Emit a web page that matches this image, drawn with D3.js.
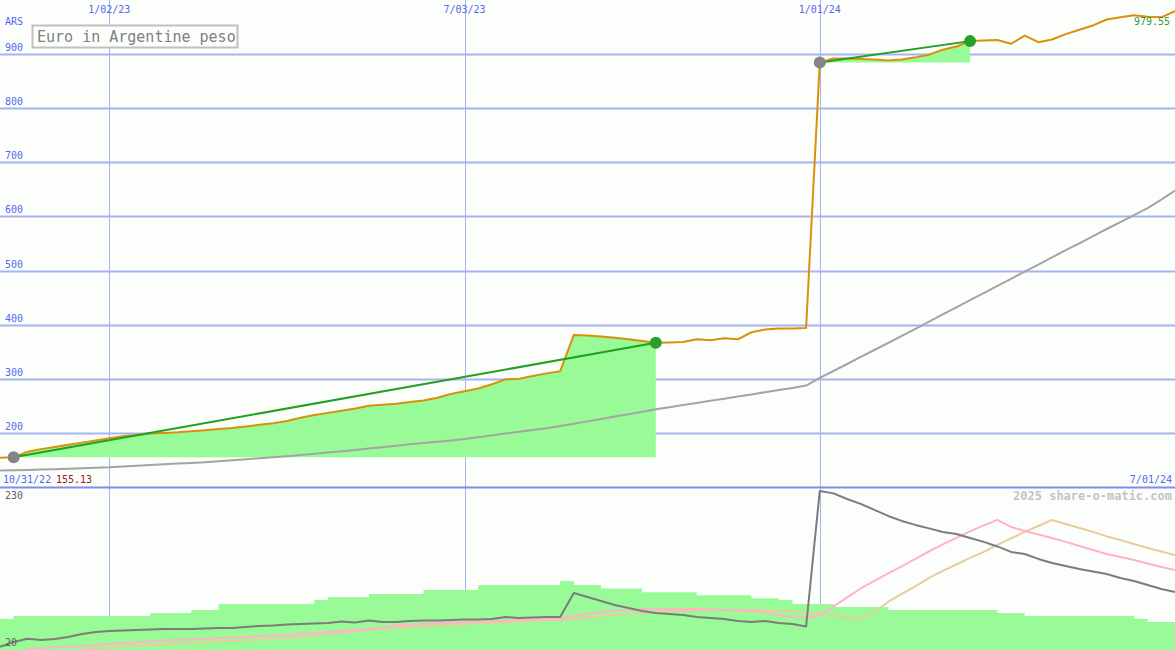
<!DOCTYPE html>
<html>
<head>
<meta charset="utf-8">
<script src="https://cdn.jsdelivr.net/npm/d3@7"></script>
<style>
  html, body { margin: 0; padding: 0; background: #fcfefc; }
  svg { display: block; }
  text { font-family: "DejaVu Sans Mono", "Liberation Mono", monospace; }
</style>
</head>
<body>
<div id="chart"></div>
<script>
// --- Data (weekly, Mondays) ---
const startWeek = "2022-11-07";
const endWeek = "2024-07-01";
const tickDates = ["2023-01-02", "2023-07-03", "2024-01-01"];
const tickLabels = ["1/02/23", "7/03/23", "1/01/24"];
const priceTicks = [200, 300, 400, 500, 600, 700, 800, 900];

// Euro in ARS
const priceValues = [
  154, 155.13, 165, 170, 174, 178, 182, 186, 190, 194,
  196, 199, 200, 201, 203, 205, 207, 209, 212, 215,
  218, 222, 228, 233, 237, 241, 245, 250, 252, 254,
  257, 260, 265, 272, 277, 282, 290, 299, 300, 305,
  310, 314, 381, 380, 378, 376, 373, 370, 366.5, 367,
  368, 373, 371, 375, 373, 386, 391, 393, 393, 394,
  884.5, 892, 892, 891, 890, 888, 890, 894, 899, 908,
  914, 924, 925, 926, 919, 934, 922, 927, 937, 945,
  953, 964, 968, 972, 969, 968, 979.55
];

// long moving average (grey)
const avgValues = [
  130.5, 131, 131.4, 132.2, 132.9, 133.8, 134.8, 135.5, 136.4, 137.9,
  139.4, 140.7, 142, 143.3, 144.4, 145.9, 147.7, 149.4, 151.2, 153.1,
  154.9, 156.9, 159.2, 161.4, 163.6, 166, 168.4, 171, 173.6, 176.2,
  178.8, 181.3, 183.7, 186.1, 188.7, 192, 195.4, 198.7, 202, 205.4,
  208.7, 212.8, 217, 221.3, 225.7, 230.1, 234.5, 239, 243.6, 247.5,
  251.6, 255.4, 259.3, 263.2, 267.1, 271.1, 275.2, 279.3, 283, 287.4,
  301.5, 314.4, 327.3, 340.3, 353.2, 366.1, 379.1, 392.4, 405.7, 419,
  431.9, 445.2, 458.5, 471.5, 484.8, 498.1, 511, 524.3, 537.6, 550.4,
  563.5, 576.8, 589.5, 602.5, 615.5, 631, 648
];

// gain periods [start, end]
const periodStarts = ["2022-11-14", "2024-01-01"];
const periodEnds = ["2023-10-09", "2024-03-18"];

// lower panel
const lowerTicks = [20, 230];
const barValues = [
  58.6, 62.5, 62.5, 62.5, 62.5, 62.5, 62.5, 62.5, 62.5, 62.5,
  62.5, 66.5, 66.5, 66.5, 70.5, 70.5, 78.5, 78.5, 78.5, 78.5,
  78.5, 78.5, 78.5, 83.8, 87.8, 87.8, 87.8, 91.8, 91.8, 91.8,
  91.8, 97, 97, 97, 97, 103.8, 103.8, 103.8, 103.8, 103.8,
  103.8, 109, 103.8, 103.8, 99, 99, 99, 94, 94, 94,
  94, 90, 90, 90, 90, 86, 86, 83.8, 78.5, 78.5,
  78.5, 74.5, 74.5, 74.5, 74.5, 70.5, 70.5, 70.5, 70.5, 70.5,
  70.5, 70.5, 70.5, 66.5, 66.5, 62.5, 62.5, 62.5, 62.5, 62.5,
  62.5, 62.5, 62.5, 58.6, 54.6, 54.6, 54.6
];
const darkValues = [
  21.7, 28, 32.4, 30.6, 32, 34.6, 38.6, 41.3, 42.6, 43.3,
  44, 44.6, 45.3, 45.3, 45.3, 46, 46.6, 46.6, 48, 49.3,
  50, 51.3, 52, 52.6, 53.2, 55.2, 54, 56.6, 54.6, 54.6,
  56, 56.6, 56.6, 57.2, 57.9, 57.9, 58.6, 61.2, 60, 60.6,
  61.2, 61.2, 93, 87.8, 82.5, 77.2, 73.2, 69.2, 66.5, 65.2,
  63.9, 61.2, 60, 58.6, 55.9, 54.6, 55.9, 53.2, 51.9, 48.6,
  228.8, 225.5, 218, 211.5, 203.5, 195.5, 188.9, 183.6, 179, 174.3,
  171.6, 166.3, 161, 155, 147.7, 145, 138.4, 133, 129, 125,
  121.7, 118.4, 113, 109, 103.8, 98.5, 94.5
];
const pinkValues = [
  null, null, 18.7, 20, 21.3, 22, 22.7, 24, 25.3, 26.6,
  27.3, 28.6, 30, 30.6, 31.3, 32, 33.3, 34, 34.6, 36,
  36.6, 37.3, 38.6, 40, 41.3, 42.6, 44, 45.3, 46.6, 50.2,
  51, 52, 52.9, 54, 54.6, 55.2, 55.9, 56.6, 57.2, 57.9,
  58.6, 59.2, 62.5, 65.2, 67.9, 69.9, 71.2, 71.9, 71.9, 71.9,
  71.9, 71.9, 71.2, 70.5, 69.9, 69.2, 67.9, 63.2, 61.2, 60,
  63.9, 74.9, 87.2, 99.1, 109.1, 119.1, 128.4, 138.4, 148.3, 157.6,
  166.3, 174.9, 182.9, 190.2, 180.9, 175.6, 170.9, 166.3, 161, 155.6,
  150.3, 145, 141, 137, 132.4, 127.7, 123.7
];
const tanValues = [
  null, null, null, null, null, null, 18.3, 19.3, 20.7, 22,
  23.3, 24, 24.7, 25.3, 26.6, 27.3, 28.6, 29.3, 30.6, 31.3,
  32.6, 34, 35, 36.6, 38.6, 40, 41.9, 43.9, 45.9, 47.3,
  48.6, 49.3, 50.6, 51.3, 51.9, 53.2, 53.9, 54.6, 55.2, 55.9,
  56.6, 57.2, 58.6, 60.6, 62.6, 63.9, 65.2, 66.5, 67.9, 68.5,
  69.2, 69.9, 70.5, 70.5, 70.5, 70.5, 69.9, 69.5, 68.5, 67.2,
  65.2, 63.2, 60.6, 59, 67.9, 81.2, 91.8, 101.8, 113.1, 122.4,
  131, 139.7, 147.7, 157, 165.6, 174.3, 182.2, 190.2, 184.9, 179.6,
  174.3, 168.3, 163.6, 158.3, 153, 148.3, 143.7
];

// --- Layout ---
const width = 1175, height = 650;
const splitY = 487;
const parse = d3.utcParse("%Y-%m-%d");
const dates = priceValues.map((_, i) => d3.utcDay.offset(parse(startWeek), 7 * i));

const x = d3.scaleUtc().domain([parse(startWeek), parse(endWeek)]).range([0, width]);
const y = d3.scaleLinear().domain([100, 1000]).range([splitY, 0]);
const y2 = d3.scaleLinear().domain([20, 230]).range([648, 490]);

const blue = "#5468ee";
const gridColor = "#a6b3f2";

const svg = d3.select("#chart").append("svg")
    .attr("width", width)
    .attr("height", height);

svg.append("rect").attr("width", width).attr("height", height).attr("fill", "#fcfefc");

// --- Grid ---
svg.append("g")
    .selectAll("line")
    .data(priceTicks)
    .join("line")
    .attr("x1", 0).attr("x2", width)
    .attr("y1", d => Math.round(y(d)) + 0.5)
    .attr("y2", d => Math.round(y(d)) + 0.5)
    .attr("stroke", gridColor)
    .attr("stroke-width", 2);

svg.append("g")
    .selectAll("line")
    .data(tickDates)
    .join("line")
    .attr("x1", d => Math.round(x(parse(d))) + 0.5)
    .attr("x2", d => Math.round(x(parse(d))) + 0.5)
    .attr("y1", 0).attr("y2", height)
    .attr("stroke", gridColor)
    .attr("stroke-width", 1);

// --- Gain areas (top) ---
const idx = s => dates.findIndex(d => +d === +parse(s));
periodStarts.forEach((s, p) => {
  const i0 = idx(s), i1 = idx(periodEnds[p]);
  const base = priceValues[i0];
  const seg = d3.range(i0, i1 + 1);
  svg.append("path")
      .datum(seg)
      .attr("fill", "#98fb98")
      .attr("d", d3.area()
          .x(i => x(dates[i]))
          .y0(y(base))
          .y1(i => y(priceValues[i])));
});

// --- Lower panel bars ---
svg.append("path")
    .datum(barValues.map((v, i) => [dates[i], v]))
    .attr("fill", "#98fb98")
    .attr("d", d3.area()
        .curve(d3.curveStepAfter)
        .x(d => x(d[0]))
        .y0(height)
        .y1(d => y2(d[1])));

// --- Panel divider ---
svg.append("line")
    .attr("x1", 0).attr("x2", width)
    .attr("y1", splitY + 0.5).attr("y2", splitY + 0.5)
    .attr("stroke", "#7d8cf0")
    .attr("stroke-width", 2);

// --- Lines ---
const line = (values, scale) => d3.line()
    .defined(i => values[i] != null)
    .x(i => x(dates[i]))
    .y(i => scale(values[i]));
const all = d3.range(priceValues.length);

function drawLine(values, scale, color, w) {
  svg.append("path")
      .datum(all)
      .attr("fill", "none")
      .attr("stroke", color)
      .attr("stroke-width", w)
      .attr("stroke-linejoin", "round")
      .attr("d", line(values, scale));
}

drawLine(tanValues, y2, "#e8cc9e", 2);
drawLine(pinkValues, y2, "#ffb2c8", 2);
drawLine(darkValues, y2, "#7c7c7c", 2);

drawLine(avgValues, y, "#a4a4a4", 2);
drawLine(priceValues, y, "#d9900a", 2);

// --- Trend lines and dots ---
periodStarts.forEach((s, p) => {
  const i0 = idx(s), i1 = idx(periodEnds[p]);
  svg.append("line")
      .attr("x1", x(dates[i0])).attr("y1", y(priceValues[i0]))
      .attr("x2", x(dates[i1])).attr("y2", y(priceValues[i1]))
      .attr("stroke", "#22a022")
      .attr("stroke-width", 2);
  svg.append("circle")
      .attr("cx", x(dates[i0])).attr("cy", y(priceValues[i0]))
      .attr("r", 6).attr("fill", "#858585");
  svg.append("circle")
      .attr("cx", x(dates[i1])).attr("cy", y(priceValues[i1]))
      .attr("r", 6).attr("fill", "#28a028");
});

// --- Labels ---
const label = (tx, ty, str, color, size, anchor, weight) => svg.append("text")
    .attr("x", tx).attr("y", ty)
    .attr("fill", color)
    .attr("font-size", size)
    .attr("text-anchor", anchor || "start")
    .attr("font-weight", weight || "normal")
    .text(str);

tickDates.forEach((d, i) => label(x(parse(d)), 13, tickLabels[i], blue, 10, "middle"));
priceTicks.forEach(v => label(5, y(v) - 3, v, blue, 10));
label(5, 25, "ARS", blue, 10);

label(1170, 25, d3.format(".2f")(priceValues[priceValues.length - 1]), "#339933", 10, "end");

label(3, 483, "10/31/22", blue, 10);
label(56, 483, d3.format(".2f")(priceValues[1]), "#a01818", 10);
label(1172, 483, "7/01/24", blue, 10, "end");
label(1172, 500, "2025 share-o-matic.com", "#c4c4c4", 12, "end", "bold");
label(5, 499, lowerTicks[1], "#606060", 10);
label(5, 646, lowerTicks[0], "#606060", 10);

// --- Legend ---
svg.append("rect")
    .attr("x", 32.5).attr("y", 25.5)
    .attr("width", 205).attr("height", 22)
    .attr("fill", "#fcfefc")
    .attr("stroke", "#c0c0c0")
    .attr("stroke-width", 2);
label(37, 42, "Euro in Argentine peso", "#808080", 15);
</script>
</body>
</html>
